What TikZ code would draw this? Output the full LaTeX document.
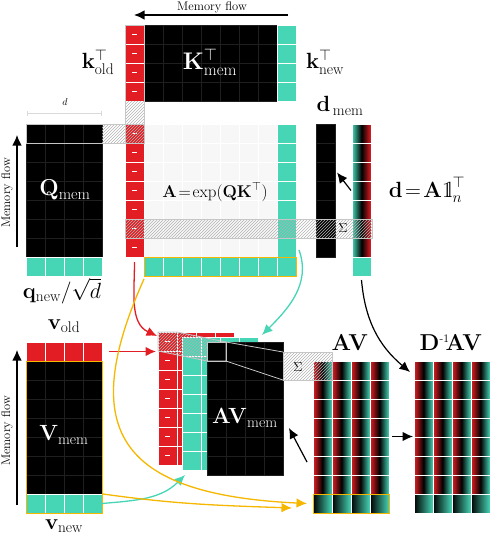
\RequirePackage{fix-cm}
\documentclass[tikz,border=0pt]{standalone}
\usepackage{amsmath}
\usepackage{amssymb}
\IfFileExists{dsfont.sty}{\usepackage{dsfont}}{\newcommand{\mathds}[1]{\mathrm{1\kern-0.23em l}}}
\usetikzlibrary{arrows.meta, patterns}

\definecolor{attred}{RGB}{226,30,36}
\definecolor{attteal}{RGB}{70,214,182}
\definecolor{attyel}{RGB}{245,183,0}

% block of cells: name, x, y, cols, rows, cell style
\newcommand{\cellblock}[6]{%
  \foreach \i in {1,...,#4}{\foreach \j in {1,...,#5}{%
    \node[#6] at ({#2+19*\i-9.5},{#3+19*\j-9.5}) {};}}%
  \node[frame, minimum width={19*#4}, minimum height={19*#5}, anchor=north west] (#1) at (#2,#3) {};}

\begin{document}
\begin{tikzpicture}[
    x=1pt, y=-1pt,
    cell/.style={minimum size=19pt, inner sep=0pt, outer sep=0pt, line width=0.8pt},
    blk/.style={cell, fill=black, draw=black!88!white},
    wht/.style={cell, fill=black!3, draw=white},
    tel/.style={cell, fill=attteal, draw=white},
    rd/.style={cell, fill=attred, draw=white},
    rdm/.style={rd, path picture={\draw[white, line width=0.9pt] ([xshift=-2.5pt]path picture bounding box.center) -- ([xshift=2.5pt]path picture bounding box.center);}},
    grd/.style={cell, draw=white, left color=attred, right color=attteal, middle color=black},
    dgrd/.style={cell, draw=white, left color=attteal, right color=attred, middle color=black},
    bgrd/.style={cell, draw=white, left color=black, right color=attteal},
    frame/.style={inner sep=0pt, outer sep=0pt},
    hatch/.style={pattern=north east lines, pattern color=gray!60},
    hl/.style={draw=gray!45, line width=1pt},
    yel/.style={draw=attyel, line width=1pt},
    lbl/.style={font=\fontsize{22}{26}\selectfont, inner sep=1pt},
    wlbl/.style={lbl, text=white},
    flow/.style={font=\fontsize{12.5}{14}\selectfont, inner sep=1pt},
    arr/.style={-{Latex[length=10.5pt, width=9.5pt]}, line width=1.2pt},
    redarr/.style={arr, draw=attred, line width=1.3pt},
    telarr/.style={arr, draw=attteal, line width=1.3pt},
    yelarr/.style={arr, draw=attyel, line width=1.3pt}
]
\useasboundingbox (0,0) rectangle (498,539);

% keys
\cellblock{kold}{125}{25}{1}{4}{rdm}
\cellblock{Kmem}{144}{25}{7}{4}{blk}
\cellblock{knew}{277}{25}{1}{4}{tel}

% attention matrix
\cellblock{Ared}{125}{124}{1}{7}{rdm}
\cellblock{A}{144}{124}{7}{7}{wht}
\cellblock{Ateal}{277}{124}{1}{7}{tel}
\cellblock{Arow}{144}{257}{8}{1}{tel}
\draw[yel] (Arow.north west) rectangle (Arow.south east);

% queries
\cellblock{Qmem}{26}{124}{4}{7}{blk}
\cellblock{qnew}{26}{257}{4}{1}{tel}

% normaliser
\cellblock{dmem}{316}{124}{1}{7}{blk}
\cellblock{dcol}{352}{124}{1}{7}{dgrd}
\cellblock{dteal}{352}{257}{1}{1}{tel}

% highlighted row and column
\fill[hatch] (125,101) rectangle (144,143);
\fill[hatch] (102,124) rectangle (125,143);
\draw[hl] (125,25) rectangle (144,143);
\draw[hl] (26,124) rectangle (144,143);
\fill[hatch] (125,219) rectangle (372,238);
\draw[hl] (125,219) rectangle (372,238);
\node[font=\fontsize{13}{15}\selectfont, inner sep=0pt] (sumA) at (343,228.5) {$\Sigma$};

% values
\cellblock{vold}{26}{342}{4}{1}{rd}
\cellblock{Vmem}{26}{361}{4}{7}{blk}
\cellblock{vnew}{26}{494}{4}{1}{tel}
\draw[yel] (Vmem.north west) rectangle (vnew.south east);

% stacked AV
\cellblock{stackR}{158}{332}{4}{7}{rdm}
\cellblock{stackT}{182}{337}{4}{7}{tel}
\fill[hatch] (158,332) -- (177,332) -- (226,342) -- (226,361) -- (207,361) -- (158,351) -- cycle;
\cellblock{stackB}{207}{342}{4}{7}{blk}
\draw[hl, line width=0.8pt] (158,332) -- (177,332) -- (226,342) -- (226,361) -- (207,361) -- (158,351) -- cycle;
\draw[hl, line width=0.8pt] (207,342) rectangle (226,361);
\draw[hl, line width=0.8pt] (226,342) -- (283,352) (226,361) -- (283,380);

\cellblock{AV}{313}{361}{4}{7}{grd}
\cellblock{AVb}{313}{494}{4}{1}{bgrd}
\draw[yel] (AVb.north west) rectangle (AVb.south east);
\cellblock{DAV}{414}{361}{4}{7}{grd}
\cellblock{DAVb}{414}{494}{4}{1}{bgrd}

\fill[hatch] (283,352) rectangle (332,380);
\draw[hl] (283,352) rectangle (332,380);
\node[font=\fontsize{13}{15}\selectfont, inner sep=0pt] (sumAV) at (298,367) {$\Sigma$};

% labels
\node[flow] (mftop) at (212,7) {Memory flow};
\node[lbl] (koldlbl) at (98,62) {$\mathbf{k}_{\text{old}}^{\top}$};
\node[wlbl, font=\fontsize{24}{28}\selectfont] (Kmemlbl) at (210,62) {$\mathbf{K}_{\text{mem}}^{\top}$};
\node[lbl] (knewlbl) at (325,62) {$\mathbf{k}_{\text{new}}^{\top}$};
\node[font=\fontsize{10}{12}\selectfont] (dimlbl) at (65,102) {$d$};
\draw[gray!30, line width=0.8pt, {Bar[width=5pt]}-{Bar[width=5pt]}] (27,113) -- (102,113);
\node[wlbl, font=\fontsize{23}{27}\selectfont] (Qlbl) at (65,190) {$\mathbf{Q}_{\text{mem}}$};
\node[flow, rotate=90] (mfq) at (7,193) {Memory flow};
\node[font=\fontsize{17}{20}\selectfont] (Albl) at (215,192) {$\mathbf{A}\!=\!\exp(\mathbf{QK}^{\top})$};
\node[lbl] (dmemlbl) at (340,106) {$\mathbf{d}_{\,\text{mem}}$};
\node[lbl] (dlbl) at (427,190) {$\mathbf{d}\!=\!\mathbf{A}\mathds{1}_n^{\top}$};
\node[lbl] (qlbl) at (62,291) {$\mathbf{q}_{\text{new}}/\sqrt{d}$};
\node[lbl] (voldlbl) at (64,326) {$\mathbf{v}_{\text{old}}$};
\node[wlbl] (Vlbl) at (64,435) {$\mathbf{V}_{\text{mem}}$};
\node[flow, rotate=90] (mfv) at (7,431) {Memory flow};
\node[lbl] (vnewlbl) at (64,526) {$\mathbf{v}_{\text{new}}$};
\node[wlbl] (AVmemlbl) at (245,418) {$\mathbf{AV}_{\text{mem}}$};
\node[lbl, font=\fontsize{23}{27}\selectfont] (AVlbl) at (350,343) {$\mathbf{AV}$};
\node[lbl, font=\fontsize{23}{27}\selectfont] (DAVlbl) at (451,343) {$\mathbf{D}^{\scriptscriptstyle\text{-}1}\!\mathbf{AV}$};

% memory flow arrows
\coordinate (mfR) at (288,15);
\coordinate (mfL) at (134,15);
\draw[arr, line width=1.4pt] (mfR) -- (mfL);
\coordinate (mfQb) at (17,247);
\coordinate (mfQt) at (17,135);
\draw[arr] (mfQb) -- (mfQt);
\coordinate (mfVb) at (17,505);
\coordinate (mfVt) at (17,350);
\draw[arr] (mfVb) -- (mfVt);

% data flow
\draw[arr] ([xshift=-1pt]dcol.west) -- ([xshift=2pt, yshift=18pt]dmem.east);
\draw[redarr] ([yshift=-5pt]Ared.south) to[out=-90, in=155] ([xshift=-1pt, yshift=-4pt]stackR.north west);
\draw[redarr] ([xshift=7pt]vold.east) -- ([xshift=-2pt]vold.east -| stackR.west);
\draw[telarr] ([xshift=3pt, yshift=7pt]Ateal.south east) to[out=-70, in=45] ([xshift=4pt, yshift=2pt]stackT.north east);
\draw[telarr] (vnew.east) to[out=5, in=-135] ([xshift=3pt, yshift=-5pt]stackT.south west);
\draw[yelarr] ([yshift=-3pt]Arow.south west) .. controls +(-67,150) and +(-190,-9) .. ([xshift=-6pt]AVb.west);
\draw[yelarr] ([xshift=1pt]Vmem.south east) to[out=-8, in=178] ([xshift=-21pt, yshift=-4.5pt]AVb.west);
\draw[arr] ([yshift=-4pt]dteal.south) to[out=-85, in=140] ([xshift=-4pt, yshift=-11pt]DAV.north west);
\draw[arr] ([xshift=3pt, yshift=-9pt]AV.east) -- ([xshift=-1pt, yshift=-9pt]DAV.west);
\draw[arr] ([xshift=-6pt, yshift=-34.5pt]AV.west) -- ([xshift=6pt, yshift=-19.5pt]stackB.east);
\end{tikzpicture}
\end{document}
